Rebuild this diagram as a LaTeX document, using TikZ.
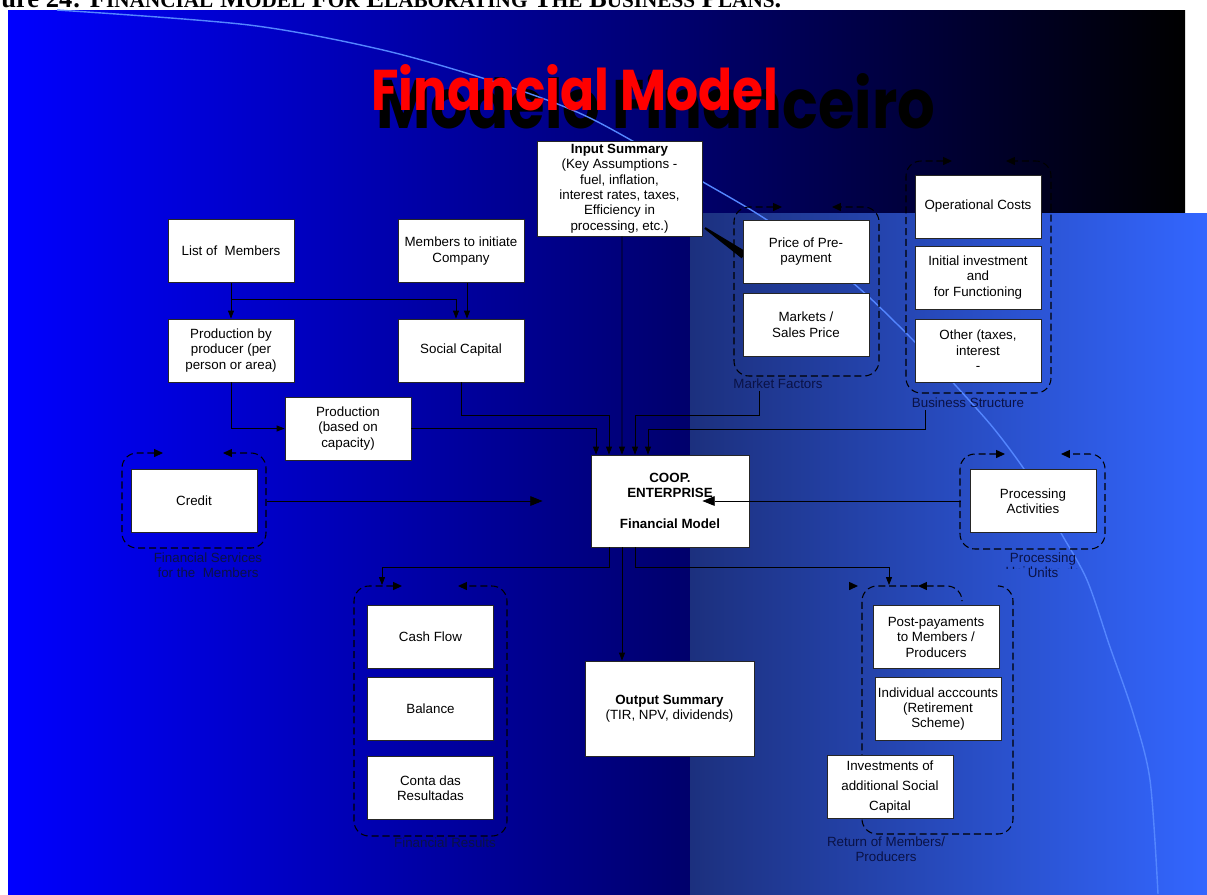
\documentclass[tikz,border=0pt]{standalone}
\usepackage{fontspec}
\usepackage{graphicx}
\usetikzlibrary{arrows.meta,calc,positioning}
\newfontfamily\arialf{Liberation Sans}
\newfontfamily\timesf{Liberation Serif}
\newfontfamily\ttlf{Poppins}
\newcommand{\bxfont}{\arialf\fontsize{7.6}{8.8}\selectfont}
\newcommand{\smcap}[1]{{\fontsize{8}{9}\selectfont #1}}
\definecolor{slideblue}{RGB}{0,0,255}
\definecolor{panelL}{RGB}{28,48,126}
\definecolor{panelR}{RGB}{51,102,255}
\definecolor{arcblue}{RGB}{84,134,255}
\definecolor{lblnavy}{RGB}{10,18,70}

\begin{document}
\begin{tikzpicture}[x=0.02cm,y=-0.02cm,
  box/.style={draw=black!85,fill=white,line width=0.5pt,minimum width=2.52cm,
    minimum height=1.26cm,inner sep=1pt,align=center,font=\bxfont},
  lbl/.style={text=lblnavy,font=\bxfont,align=center,inner sep=1pt},
  conn/.style={line width=0.5pt,-{Triangle[length=4.5pt,width=3.4pt]}},
  connbig/.style={line width=0.5pt,-{Triangle[length=7pt,width=5.5pt]}},
  grp/.style={line width=0.6pt,dash pattern=on 4pt off 2.2pt,rounded corners=0.3cm},
  grptips/.style={grp,{Triangle[length=5pt,width=4.5pt]}-{Triangle[length=5pt,width=4.5pt]}}]
\useasboundingbox (0,0) rectangle (1207,894);
\fill[white] (0,0) rectangle (1207,894);
% slide background
\shade[left color=slideblue,right color=black] (8,10) rectangle (1185,894);
\shade[left color=panelL,right color=panelR] (690,213) rectangle (1207,894);
\node[anchor=base west,inner sep=0] (hdr) at (1,7)
  {\resizebox{15.6cm}{!}{\timesf\bfseries ure 24: F\smcap{INANCIAL} M\smcap{ODEL} F\smcap{OR} E\smcap{LABORATING} T\smcap{HE} B\smcap{USINESS} P\smcap{LANS}.}};
% titles and arc
\node[anchor=base west,inner sep=0] (ttlpt) at (376,128)
  {\resizebox{11.18cm}{1.1cm}{\ttlf\bfseries Modelo Financeiro}};
\draw[arcblue,line width=0.8pt] plot[smooth] coordinates {(57,10) (249,25) (383,50) (498,83)
  (590,118) (703,182) (770,222) (853,283) (913,340) (957,387) (995,430) (1030,478)
  (1061,533) (1087,580) (1110,647) (1133,713) (1150,780) (1158,894)};
\node[anchor=base west,inner sep=0,text=red] (ttlen) at (371,110)
  {\resizebox{8.14cm}{0.92cm}{\ttlf\bfseries Financial Model}};
\fill[black] (704.4,228.8) -- (705.6,227.2) -- (746.3,251.7) -- (741.7,258.3) -- cycle;
% dashed groups
\draw[grptips] (163,453) -- (122,453) -- (122,548) -- (266,548) -- (266,453) -- (223,453);
\draw[grptips] (782,207) -- (734,207) -- (734,376) -- (879,376) -- (879,207) -- (832,207);
\draw[grptips] (952,161) -- (906,161) -- (906,393) -- (1051,393) -- (1051,161) -- (1006,161);
\draw[grptips] (1005,454) -- (960,454) -- (960,549) -- (1105,549) -- (1105,454) -- (1061,454);
\draw[grptips] (402,586) -- (354,586) -- (354,836) -- (507,836) -- (507,586) -- (458,586);
\draw[grp] (918,586) -- (862,586) -- (862,834) -- (1013,834) -- (1013,586) -- (1002,586);
\draw[grp,{Triangle[length=5pt,width=4.5pt]}-] (918,586) -- (962,586) -- (962,600);
\draw[grp,-{Triangle[length=5pt,width=4.5pt]}] (852,586) -- (858,586);
% boxes
\node[box] (lom) at (231,251) {List of\ \ Members};
\node[box] (mic) at (461,251) {Members to initiate\\Company};
\node[box] (pbp) at (231,350.5) {Production by\\producer (per\\person or area)};
\node[box] (soc) at (461,350.5) {Social Capital};
\node[box] (prd) at (348,428.5) {Production\\(based on\\capacity)};
\node[box,minimum width=3.3cm,minimum height=1.9cm] (inp) at (619.5,188.5)
  {\textbf{Input Summary}\\(Key Assumptions -\\fuel, inflation,\\interest rates, taxes,\\Efficiency in\\processing, etc.)};
\node[box] (ppp) at (806,251.5) {Price of Pre-\\payment};
\node[box] (msp) at (806,324.5) {Markets /\\Sales Price};
\node[box] (opc) at (978,206.5) {Operational Costs};
\node[box] (iif) at (978,277.5) {Initial investment\\and\\for Functioning};
\node[box] (oth) at (978,350.5) {Other (taxes,\\interest\\-};
\node[box,minimum width=3.16cm,minimum height=1.84cm,font=\bxfont\bfseries] (coop) at (670,501)
  {COOP.\\ENTERPRISE\\[8.8pt]Financial Model};
\node[box] (cred) at (194,501) {Credit};
\node[box] (proc) at (1033,501) {Processing\\Activities};
\foreach \n/\y/\t in {cash/637/{Cash Flow},bal/709/Balance,cdr/788/{Conta das\\Resultadas}}
  \node[box] (\n) at (430.5,\y) {\t};
\node[box,minimum width=3.38cm,minimum height=1.9cm] (out) at (669.5,708.5)
  {\textbf{Output Summary}\\(TIR, NPV, dividends)};
\node[box] (post) at (936,637) {Post-payaments\\to Members /\\Producers};
\node[box] (ind) at (938,709) {Individual acccounts\\(Retirement\\Scheme)};
\node[box,font=\arialf\fontsize{7.6}{11.4}\selectfont] (invs) at (890,787)
  {Investments of\\additional Social\\Capital};
% group labels
\node[lbl] (mflbl) at (778,384) {Market Factors};
\node[lbl] (bslbl) at (968,403) {Business Structure};
\node[lbl] (fslbl) at (208,565) {Financial Services\\for the\ \ Members};
\node[lbl] (pulbl) at (1043,565) {Processing\\Units};
\begin{scope}
\clip (1005,562) rectangle (1085,568.5);
\node[lbl] (puold) at (1043,572) {Unidades de};
\end{scope}
\node[lbl] (frlbl) at (445,843) {Financial Results};
\node[lbl] (rmlbl) at (886,849) {Return of Members/\\Producers};
% connectors
\draw[conn] (lom.south) -- (pbp.north);
\draw[conn] ($(lom.south)!0.45!(pbp.north)$) -| ($(soc.north)+(-5,0)$);
\draw[conn] ($(mic.south)+(6,0)$) -- ($(soc.north)+(6,0)$);
\draw[conn] (pbp.south) |- (prd.west);
\draw[conn] (prd.east) -| ($(coop.north)+(-74,0)$);
\draw[conn] (soc.south) |- ($(coop.north)+(-61,-39)$) -- ($(coop.north)+(-61,0)$);
\draw[conn] ($(inp.south)+(2.5,0)$) -- ($(coop.north)+(-48,0)$);
\draw[conn] ($(mflbl.south)+(-19,0)$) |- ($(coop.north)+(-35,-39)$) -- ($(coop.north)+(-35,0)$);
\draw[conn] ($(bslbl.south)+(-43,0)$) |- ($(coop.north)+(-22,-25)$) -- ($(coop.north)+(-22,0)$);
\draw[connbig] ($(cred.east)+(10,0)$) -- ($(coop.west)+(-48,0)$);
\draw[connbig] ($(proc.west)+(-9,0)$) -- ($(coop.east)+(-47,0)$);
\draw[conn] ($(coop.south)+(-61,0)$) -- ++(0,20) -| ($(cash.north)+(-48.5,-20)$);
\draw[conn] ($(coop.south)+(-48,0)$) -- ($(out.north)+(-47.5,0)$);
\draw[conn] ($(coop.south)+(-35,0)$) -- ++(0,20) -| ($(post.north)+(-47,-20)$);
\end{tikzpicture}
\end{document}
